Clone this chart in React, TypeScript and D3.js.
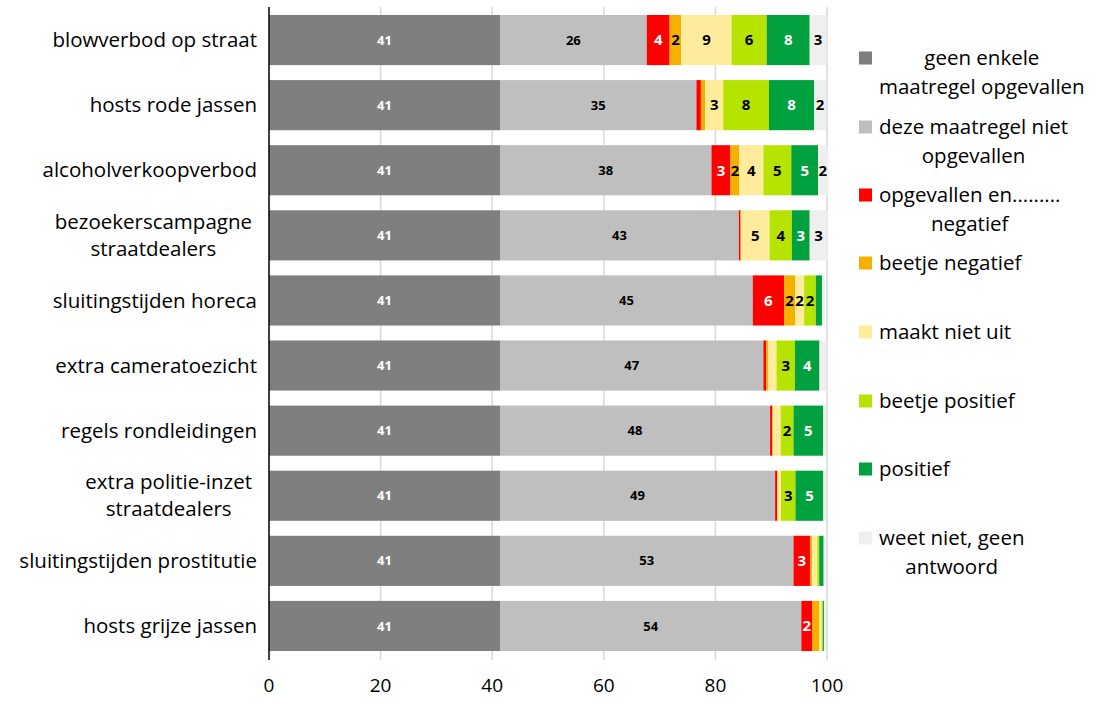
import React, { useEffect, useRef } from "react";
import * as d3 from "d3";

const categories = [
  "blowverbod op straat",
  "hosts rode jassen",
  "alcoholverkoopverbod",
  "bezoekerscampagne\nstraatdealers",
  "sluitingstijden horeca",
  "extra cameratoezicht",
  "regels rondleidingen",
  "extra politie-inzet\nstraatdealers",
  "sluitingstijden prostitutie",
  "hosts grijze jassen",
];

const seriesNames = [
  "geen enkele\nmaatregel opgevallen",
  "deze maatregel niet\nopgevallen",
  "opgevallen en.........\nnegatief",
  "beetje negatief",
  "maakt niet uit",
  "beetje positief",
  "positief",
  "weet niet, geen\nantwoord",
];

const seriesColors = ["#7f7f7f", "#bfbfbf", "#ff0000", "#f5b000", "#ffeb9c", "#b7e300", "#00a13e", "#efefef"];
const labelColors = ["#ffffff", "#000000", "#ffffff", "#000000", "#000000", "#000000", "#ffffff", "#000000"];

const geenEnkele = [41.4, 41.4, 41.4, 41.4, 41.4, 41.4, 41.4, 41.4, 41.4, 41.4];
const nietOpgevallen = [26.3, 35.2, 37.9, 42.8, 45.3, 47.2, 48.4, 49.3, 52.6, 54.0];
const negatief = [4.1, 0.8, 3.4, 0.3, 5.6, 0.5, 0.4, 0.35, 3.0, 2.0];
const beetjeNegatief = [2.1, 0.8, 1.6, 0.1, 2.0, 0.4, 0.1, 0.1, 0.35, 1.25];
const maaktNietUit = [9.0, 3.2, 4.3, 5.1, 1.6, 1.45, 1.4, 0.6, 0.9, 0.4];
const beetjePositief = [6.3, 8.2, 5.0, 4.0, 2.1, 3.3, 2.3, 2.6, 0.35, 0.2];
const positief = [7.7, 8.1, 4.8, 3.2, 1.1, 4.4, 5.3, 5.0, 0.8, 0.2];
const weetNiet = [3.0, 2.1, 1.7, 3.2, 0.5, 1.3, 0.5, 0.5, 0.2, 0.3];

const xTicks = [0, 20, 40, 60, 80, 100];

const allSeries = [geenEnkele, nietOpgevallen, negatief, beetjeNegatief, maaktNietUit, beetjePositief, positief, weetNiet];

const FONT = "'Open Sans', sans-serif";
const FS = 20.5;

export default function App() {
  const ref = useRef<SVGSVGElement>(null);

  useEffect(() => {
    document.body.style.margin = "0";
    const svg = d3.select(ref.current);
    svg.selectAll("*").remove();

    const x = d3.scaleLinear().domain([0, 100]).range([269, 827]);
    const y = d3.scaleBand<string>().domain(categories).range([7.5, 658.5]).paddingInner(0.23).paddingOuter(0.115);

    // gridlines
    svg.append("g").selectAll("line").data(xTicks.slice(1)).join("line")
      .attr("x1", (d) => x(d)).attr("x2", (d) => x(d))
      .attr("y1", 7).attr("y2", 660)
      .attr("stroke", "#d9d9d9").attr("stroke-width", 1.5);

    // stacked data
    const rows = categories.map((c, i) => {
      const obj: any = { cat: c };
      allSeries.forEach((s, k) => (obj["s" + k] = s[i]));
      return obj;
    });
    const keys = allSeries.map((_, k) => "s" + k);
    const stack = d3.stack<any>().keys(keys)(rows);

    stack.forEach((layer, k) => {
      const g = svg.append("g");
      g.selectAll("rect").data(layer).join("rect")
        .attr("x", (d) => x(d[0]))
        .attr("width", (d) => Math.max(0, x(d[1]) - x(d[0])))
        .attr("y", (d) => y(d.data.cat)!)
        .attr("height", y.bandwidth())
        .attr("fill", seriesColors[k]);
    });

    stack.forEach((layer, k) => {
      const g = svg.append("g");
      g.selectAll("text").data(layer.filter((d) => d[1] - d[0] >= 1.5)).join("text")
        .attr("x", (d) => (x(d[0]) + x(d[1])) / 2)
        .attr("y", (d) => y(d.data.cat)! + y.bandwidth() / 2)
        .attr("dy", "0.35em")
        .attr("text-anchor", "middle")
        .attr("font-family", FONT)
        .attr("font-weight", "bold")
        .attr("font-size", k >= 2 ? 15 : 13)
        .attr("fill", labelColors[k])
        .text((d) => String(Math.round(d[1] - d[0])));
    });

    // axis line at 0
    svg.append("line").attr("x1", x(0)).attr("x2", x(0)).attr("y1", 7).attr("y2", 660)
      .attr("stroke", "#000").attr("stroke-width", 1.5);

    // tick labels
    svg.append("g").selectAll("text").data(xTicks).join("text")
      .attr("x", (d) => x(d)).attr("y", 692)
      .attr("text-anchor", "middle")
      .attr("font-family", FONT).attr("font-size", 19)
      .attr("fill", "#000")
      .text((d) => String(d));

    // category labels
    const catG = svg.append("g");
    categories.forEach((c) => {
      const lines = c.split("\n");
      const cy = y(c)! + y.bandwidth() / 2;
      if (lines.length === 1) {
        catG.append("text").attr("x", 257).attr("y", cy).attr("dy", "0.35em")
          .attr("text-anchor", "end").attr("font-family", FONT).attr("font-size", FS).text(c);
      } else {
        const t = catG.append("text").attr("font-family", FONT).attr("font-size", FS).attr("text-anchor", "middle");
        const tmp = catG.append("text").attr("font-family", FONT).attr("font-size", FS).text(lines[0]);
        const w = (tmp.node() as SVGTextElement).getComputedTextLength();
        tmp.remove();
        const cx = 252 - w / 2;
        lines.forEach((l, i) => {
          t.append("tspan").attr("x", cx).attr("y", cy + (i - (lines.length - 1) / 2) * 27).attr("dy", "0.35em").text(l);
        });
      }
    });

    // legend
    const legG = svg.append("g");
    const legY = [58, 127, 195, 263, 332, 401, 469, 538];
    seriesNames.forEach((name, k) => {
      const top = legY[k];
      legG.append("rect").attr("x", 859).attr("y", top - 6.5).attr("width", 13).attr("height", 13).attr("fill", seriesColors[k]);
      const lines = name.split("\n");
      let maxW = 0;
      lines.forEach((l) => {
        const tmp = legG.append("text").attr("font-family", FONT).attr("font-size", FS).text(l);
        maxW = Math.max(maxW, (tmp.node() as SVGTextElement).getComputedTextLength());
        tmp.remove();
      });
      const cx = 879 + maxW / 2;
      lines.forEach((l, i) => {
        legG.append("text").attr("x", lines.length > 1 ? cx : 879).attr("y", top + i * 29).attr("dy", "0.35em")
          .attr("text-anchor", lines.length > 1 ? "middle" : "start")
          .attr("font-family", FONT).attr("font-size", FS).text(l);
      });
    });
  }, []);

  return <svg ref={ref} width={1102} height={702} style={{ display: "block", background: "#fff" }} />;
}
